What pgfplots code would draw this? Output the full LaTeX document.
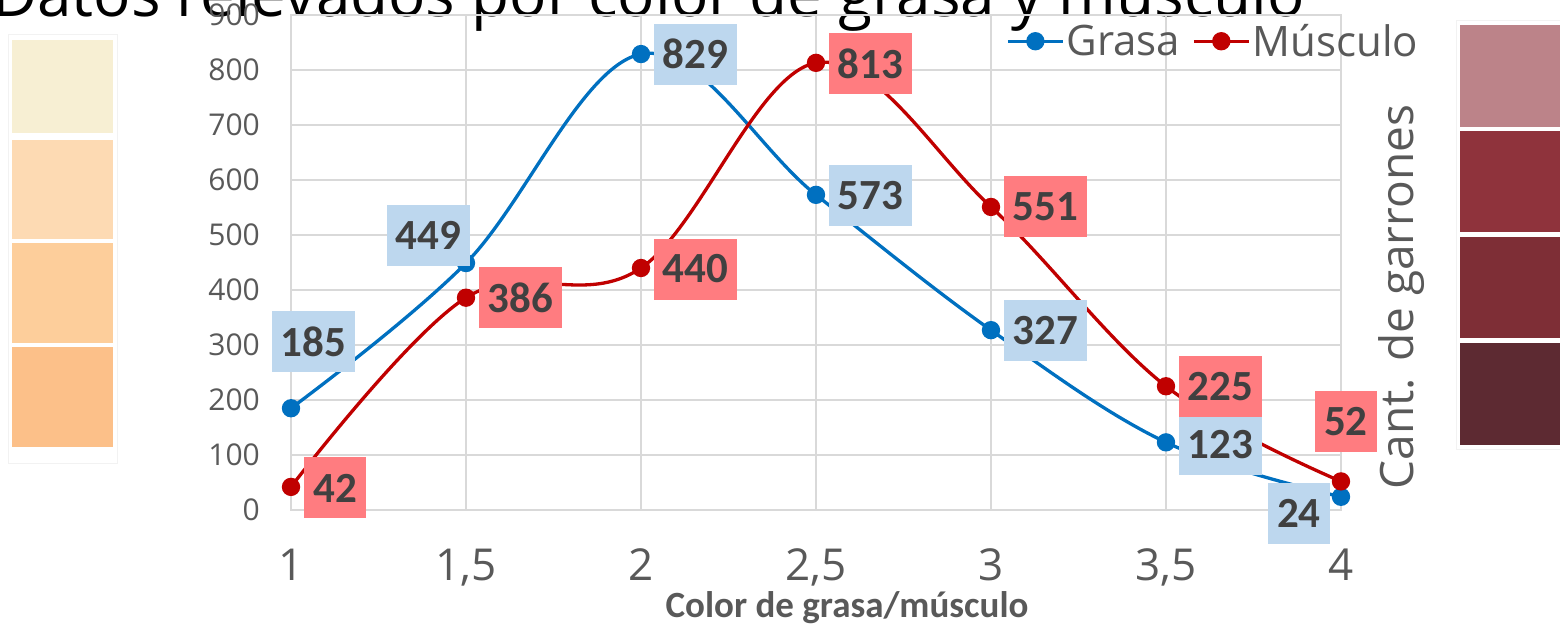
\documentclass[border=0pt]{standalone}
\usepackage{fontspec}
\setmainfont{Open Sans}
\newfontfamily\carlito{Carlito}
\usepackage{graphicx}
\usepackage{pgfplots}
\pgfplotsset{compat=1.18}
\usepackage{pgfplotstable}
\definecolor{grasa}{HTML}{0070C0}
\definecolor{musculo}{HTML}{C00000}
\definecolor{grasalab}{HTML}{BDD7EE}
\definecolor{musclab}{HTML}{FF7C80}
\definecolor{txt}{HTML}{595959}
\definecolor{labtxt}{HTML}{404040}
\definecolor{gridc}{HTML}{D9D9D9}
\definecolor{sA}{HTML}{F7EFD3}
\definecolor{sB}{HTML}{FDDAB3}
\definecolor{sC}{HTML}{FDCE9B}
\definecolor{sD}{HTML}{FCC089}
\definecolor{rA}{HTML}{BC8389}
\definecolor{rB}{HTML}{8F333C}
\definecolor{rC}{HTML}{7E2E36}
\definecolor{rD}{HTML}{5D2A32}

\pgfplotstableread{
x y dx dy
1 185 22.5 66.5
1.5 449 -37.5 27.5
2 829 54.5 0
2.5 573 54.5 -1
3 327 54.5 0
3.5 123 54.5 -2
4 24 -42 -16.5
}\tabgrasa
\pgfplotstableread{
x y dx dy
1 42 44 -1
1.5 386 54.5 0
2 440 54.5 -1
2.5 813 54.5 -0.5
3 551 54.5 0
3.5 225 54.5 0
4 52 5 59.5
}\tabmusculo

\begin{document}
\begin{tikzpicture}[x=1pt,y=1pt]
% swatches
\draw[draw=black!5, line width=1pt] (8,595) rectangle (117,167);
\fill[sA] (12,590) rectangle (113,497);
\fill[sB] (12,490) rectangle (113,391);
\fill[sC] (12,387) rectangle (113,287);
\fill[sD] (12,283) rectangle (113,183);
\draw[draw=black!5, line width=1pt] (1456,609) rectangle (1565,181);
\fill[rA] (1460,605) rectangle (1560,503);
\fill[rB] (1460,499) rectangle (1560,398);
\fill[rC] (1460,393) rectangle (1560,292);
\fill[rD] (1460,287) rectangle (1560,185);
% title
\node[anchor=base west, font=\fontsize{62}{70}\selectfont, inner sep=0pt] at (-8,613) {Datos relevados por color de grasa y músculo};
% y label
\node[rotate=90, anchor=base, font=\fontsize{46}{52}\selectfont, text=txt, inner sep=0pt] at (1413,333) {Cant. de garrones};
\begin{axis}[
  at={(291pt,120pt)}, anchor=south west,
  scale only axis, width=1050pt, height=495pt,
  xmin=1, xmax=4, ymin=0, ymax=900,
  xtick={1,1.5,2,2.5,3,3.5,4},
  xticklabels={1,{1,5},2,{2,5},3,{3,5},4},
  ytick={0,100,...,900},
  grid=major, grid style={gridc, line width=2pt},
  axis line style={draw=gridc, line width=2pt},
  major tick length=0pt,
  /pgf/number format/assume math mode=true,
  yticklabel style={anchor=east, inner sep=0pt, xshift=-31pt, font=\fontsize{30}{36}\selectfont, text=txt},
  xticklabel style={anchor=base, inner sep=0pt, yshift=-70pt, font=\fontsize{44}{50}\selectfont, text=txt},
  xlabel={\carlito\bfseries Color de grasa/músculo},
  xlabel style={at={(axis description cs:0.5,0)}, anchor=base, xshift=31pt, yshift=-107pt, font=\fontsize{37}{44}\selectfont, text=txt, inner sep=0pt},
  legend columns=2,
  legend style={at={(0.681,0.947)}, anchor=west, draw=none, fill=none, inner sep=0pt,
    font=\fontsize{42}{50}\selectfont, text=txt,
    /tikz/every even column/.append style={column sep=10pt}},
  legend image code/.code={\draw[mark repeat=2,mark phase=2] plot coordinates {(0pt,0pt) (27.5pt,0pt) (55pt,0pt)};},
  clip=false,
]
\addplot[grasa, line width=3.3pt, smooth, tension=0.6, mark=*, mark size=7.5pt, mark options={solid}] table[x=x,y=y]{\tabgrasa};
\addlegendentry{Grasa}
\addplot[musculo, line width=3.3pt, smooth, tension=0.6, mark=*, mark size=7.5pt, mark options={solid}] table[x=x,y=y]{\tabmusculo};
\addlegendentry{Músculo}
\addplot[draw=none, mark=none, forget plot, nodes near coords, point meta=explicit symbolic,
  visualization depends on={\thisrow{dx} \as \dx},
  visualization depends on={\thisrow{dy} \as \dy},
  every node near coord/.append style={anchor=center, xshift=\dx pt, yshift=\dy pt, fill=grasalab, text=labtxt,
    font=\fontsize{43}{48}\selectfont\carlito\bfseries, inner xsep=9pt, inner ysep=0pt, minimum height=61pt}]
  table[x=x,y=y,meta=y]{\tabgrasa};
\addplot[draw=none, mark=none, forget plot, nodes near coords, point meta=explicit symbolic,
  visualization depends on={\thisrow{dx} \as \dx},
  visualization depends on={\thisrow{dy} \as \dy},
  every node near coord/.append style={anchor=center, xshift=\dx pt, yshift=\dy pt, fill=musclab, text=labtxt,
    font=\fontsize{43}{48}\selectfont\carlito\bfseries, inner xsep=9pt, inner ysep=0pt, minimum height=61pt}]
  table[x=x,y=y,meta=y]{\tabmusculo};
\end{axis}
\pgfresetboundingbox
\useasboundingbox (0,0) rectangle (1560,630);
\end{tikzpicture}
\end{document}
